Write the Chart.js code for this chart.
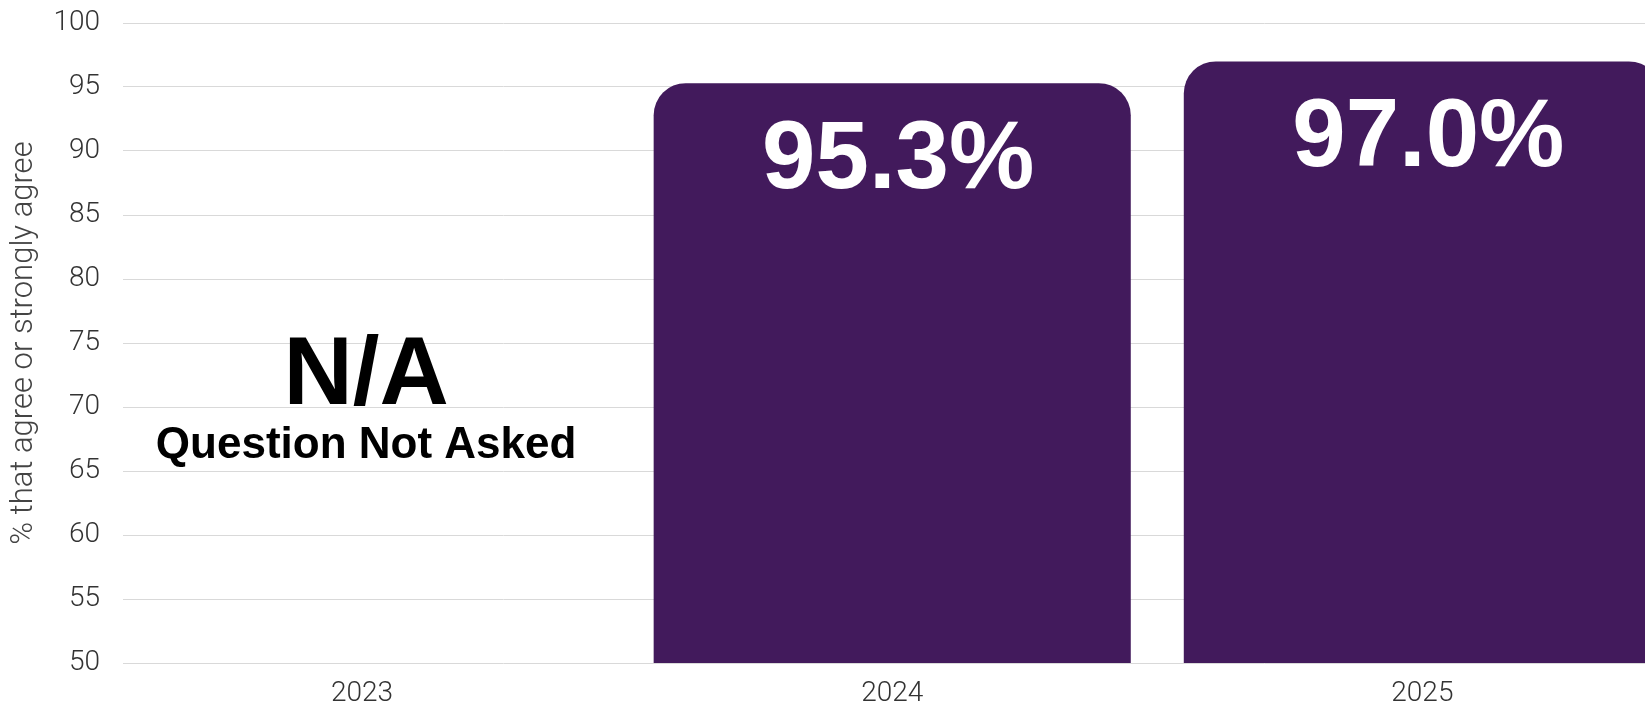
<!DOCTYPE html>
<html>
<head>
<meta charset="utf-8">
<script src="https://cdn.jsdelivr.net/npm/chart.js@4"></script>
<style>
  html, body { margin: 0; padding: 0; background: #fff; overflow: hidden; }
  #wrap { width: 1645px; height: 707px; position: relative; }
</style>
</head>
<body>
<div id="wrap"><canvas id="agreeChart"></canvas></div>
<script>
const years = ['2023', '2024', '2025'];
const agreePct = [null, 95.3, 97.0];
const yTicks = [50, 55, 60, 65, 70, 75, 80, 85, 90, 95, 100];
const yTitle = '% that agree or strongly agree';
const missingNote = ['N/A', 'Question Not Asked'];

const barColor = '#421a5c';

// value labels inside bars, and the note for the year with no data
const barText = {
    id: 'barText',
    afterDatasetsDraw(chart) {
        const ctx = chart.ctx;
        const xs = chart.scales.x;
        const area = chart.chartArea;
        const meta = chart.getDatasetMeta(0);
        ctx.save();
        ctx.textAlign = 'center';
        ctx.textBaseline = 'alphabetic';
        meta.data.forEach((bar, i) => {
            const v = agreePct[i];
            if (v === null) {
                const cx = xs.getPixelForValue(i) + 4;
                ctx.fillStyle = '#000';
                ctx.font = 'bold 96px "Liberation Sans", Arial, sans-serif';
                ctx.fillText(missingNote[0], cx, area.top + 381);
                ctx.font = 'bold 44px "Liberation Sans", Arial, sans-serif';
                ctx.fillText(missingNote[1], cx, area.top + 435);
                return;
            }
            ctx.fillStyle = '#fff';
            ctx.font = 'bold 96px "Liberation Sans", Arial, sans-serif';
            ctx.fillText(v.toFixed(1) + '%', bar.x + 6, bar.y + 105);
        });
        ctx.restore();
    }
};

new Chart(document.getElementById('agreeChart'), {
    type: 'bar',
    data: {
        datasets: [{
            data: years.map((y, i) => ({ x: i, y: agreePct[i] })),
            backgroundColor: barColor,
            borderWidth: 0,
            borderSkipped: 'bottom',
            borderRadius: { topLeft: 32, topRight: 32, bottomLeft: 0, bottomRight: 0 },
            categoryPercentage: 0.9,
            barPercentage: 1.0
        }]
    },
    options: {
        responsive: true,
        maintainAspectRatio: false,
        animation: false,
        layout: { padding: { top: 23, right: 0, bottom: 0, left: 0 } },
        plugins: {
            legend: { display: false },
            tooltip: { enabled: false }
        },
        scales: {
            x: {
                type: 'linear',
                offset: false,
                bounds: 'ticks',
                min: -0.451,
                max: 2.42,
                afterBuildTicks(scale) {
                    scale.ticks = years.map((y, i) => ({ value: i }));
                },
                afterFit(scale) {
                    scale.height = 44;
                    scale.paddingLeft = 0;
                    scale.paddingRight = 0;
                },
                grid: { display: false, drawTicks: false, offset: false },
                border: { display: false },
                ticks: {
                    callback: (v) => years[v],
                    padding: 14,
                    color: '#333',
                    font: { family: 'Roboto', size: 28, weight: '300' }
                }
            },
            y: {
                min: 50,
                max: 100,
                afterBuildTicks(scale) {
                    scale.ticks = yTicks.map(v => ({ value: v }));
                },
                afterFit(scale) {
                    scale.width = 123;
                    scale.paddingTop = 0;
                    scale.paddingBottom = 0;
                },
                grid: { color: '#d9d9d9', lineWidth: 1, drawTicks: false },
                border: { display: false },
                ticks: {
                    padding: 23,
                    color: '#333',
                    font: { family: 'Roboto', size: 28, weight: '300' }
                },
                title: {
                    display: true,
                    text: yTitle,
                    color: '#444',
                    padding: { top: 6, bottom: 0 },
                    font: { family: 'Roboto', size: 31, weight: '300' }
                }
            }
        }
    },
    plugins: [barText]
});
</script>
</body>
</html>
